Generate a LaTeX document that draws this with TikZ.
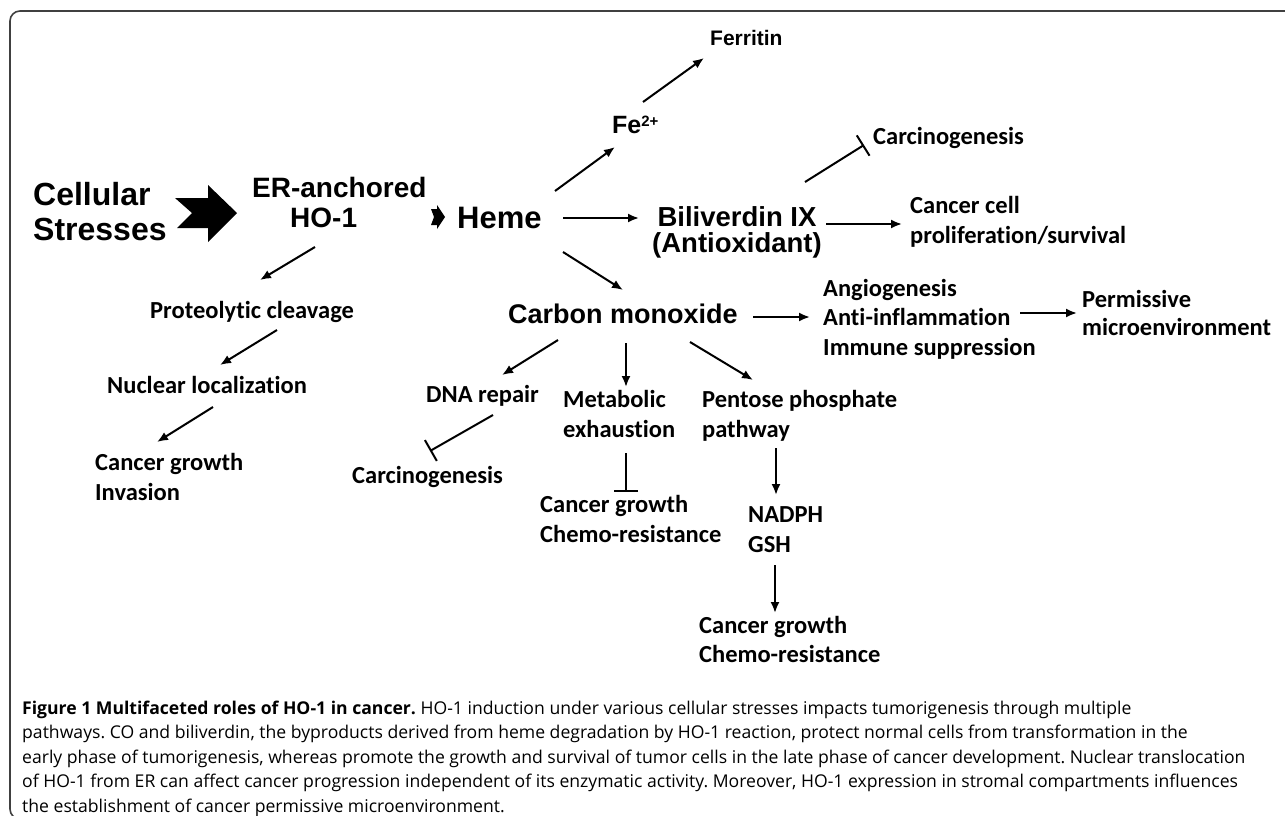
\documentclass[tikz,border=0pt]{standalone}
\usepackage{fontspec}
\setmainfont{Liberation Sans}
\newfontfamily\calfont{Carlito}[Ligatures=NoCommon]
\newfontfamily\capfont{Open Sans}
\usetikzlibrary{arrows.meta}
\begin{document}
\begin{tikzpicture}[x=1pt,y=-1pt,
  ar/.style={inner sep=0pt, anchor=base west, align=flush left, text width=300pt, font=\bfseries\fontsize{#1}{#1}\selectfont},
  cb/.style={inner sep=0pt, anchor=base west, align=flush left, text width=300pt, font=\calfont\bfseries\fontsize{24.5}{30}\selectfont},
  arr/.style={line width=2pt, -{Latex[length=11pt,width=9pt]}},
  inh/.style={line width=2pt, -{Bar[width=24pt]}},
  frame/.style={line width=1.6pt, draw=black!75, rounded corners=10pt}
]
\useasboundingbox (0,0) rectangle (1285,815);
\clip (0,0) rectangle (1285,815);
\draw[frame] (1300,11) -- (10,11) -- (10,819) -- (1300,819);

% Arial-like nodes
\node[ar=32, font=\bfseries\fontsize{32}{35}\selectfont] (stress) at (33,205) {Cellular\\Stresses};
\node[ar=28, font=\bfseries\fontsize{28}{30}\selectfont] (er) at (252,197) {ER-anchored\\\hspace*{38pt}HO-1};
\node[ar=31] (heme) at (457,228) {Heme};
\node[ar=25] (fe) at (612,133) {Fe\raisebox{0.28em}{\fontsize{15}{15}\selectfont 2+}};
\node[ar=21] (ferr) at (710,45) {Ferritin};
\node[inner sep=0pt, anchor=base, align=flush center, text width=220pt, font=\bfseries\fontsize{27.5}{26}\selectfont] (bili) at (737,226) {Biliverdin IX\\(Antioxidant)};
\node[ar=27] (co) at (508,323) {Carbon monoxide};

% Calibri-like nodes
\node[cb] (carc1) at (873,144) {Carcinogenesis};
\node[cb] (cancell) at (910,213) {Cancer cell\\proliferation/survival};
\node[cb, font=\calfont\bfseries\fontsize{24.5}{29.5}\selectfont] (angio) at (823,296) {Angiogenesis\\Anti-inflammation\\Immune suppression};
\node[cb, font=\calfont\bfseries\fontsize{24.5}{28}\selectfont] (perm) at (1082,307) {Permissive\\microenvironment};
\node[cb] (prot) at (150,318) {Proteolytic cleavage};
\node[cb] (nuc) at (107,393) {Nuclear localization};
\node[cb] (cgi) at (95,470) {Cancer growth\\Invasion};
\node[cb] (dna) at (426,402) {DNA repair};
\node[cb] (carc2) at (352,483) {Carcinogenesis};
\node[cb] (meta) at (563,407) {Metabolic\\exhaustion};
\node[cb] (pent) at (702,407) {Pentose phosphate\\pathway};
\node[cb] (cg2) at (540,512) {Cancer growth\\Chemo-resistance};
\node[cb] (nadph) at (748,522) {NADPH\\GSH};
\node[cb, font=\calfont\bfseries\fontsize{24.5}{29}\selectfont] (cg3) at (699,633) {Cancer growth\\Chemo-resistance};

% big block arrows
\fill ([shift={(142,-7)}]stress.base west) -- ++(33,0) -- ++(0,-13) -- ++(29,28) -- ++(-29,29) -- ++(0,-14) -- ++(-31,0) -- ++(15,-15) -- cycle;
\fill ([shift={(-26,-19)}]heme.base west) -- ++(6,0) -- ++(0,-4) -- ++(8,12) -- ++(-8,12) -- ++(0,-4) -- ++(-6,0) -- ++(3,-8) -- cycle;

% connectors
\draw[arr] ([shift={(63,50)}]er.base west) -- ([shift={(110,-38)}]prot.base west);
\draw[arr] ([shift={(127,12)}]prot.base west) -- ([shift={(113,-28)}]nuc.base west);
\draw[arr] ([shift={(106,14)}]nuc.base west) -- ([shift={(62,-28)}]cgi.base west);
\draw[arr] ([shift={(98,-37)}]heme.base west) -- ([shift={(3,14)}]fe.base west);
\draw[arr] ([shift={(31,-31)}]fe.base west) -- ([shift={(-6,13)}]ferr.base west);
\draw[arr] ([shift={(106,-10)}]heme.base west) -- ([shift={(-98,-8)}]bili.base);
\draw[arr] ([shift={(106,24)}]heme.base west) -- ([shift={(115,-33)}]co.base west);
\draw[inh] ([shift={(68,-44)}]bili.base) -- ([shift={(-9,1)}]carc1.base west);
\draw[arr] ([shift={(89,-2)}]bili.base) -- ([shift={(-8,11)}]cancell.base west);
\draw[arr] ([shift={(245,-6)}]co.base west) -- ([shift={(-13,21)}]angio.base west);
\draw[arr] ([shift={(197,17)}]angio.base west) -- ([shift={(-5,6)}]perm.base west);
\draw[arr] ([shift={(50,17)}]co.base west) -- ([shift={(76,-27)}]dna.base west);
\draw[arr] ([shift={(118,20)}]co.base west) -- ([shift={(63,-20)}]meta.base west);
\draw[arr] ([shift={(182,19)}]co.base west) -- ([shift={(51,-27)}]pent.base west);
\draw[inh] ([shift={(67,13)}]dna.base west) -- ([shift={(78,-32)}]carc2.base west);
\draw[inh] ([shift={(63,46)}]meta.base west) -- ([shift={(86,-20)}]cg2.base west);
\draw[arr] ([shift={(74,41)}]pent.base west) -- ([shift={(28,-27)}]nadph.base west);
\draw[arr] ([shift={(27,43)}]nadph.base west) -- ([shift={(76,-20)}]cg3.base west);

% caption
\node[inner sep=0pt, anchor=base west, align=flush left, text width=1300pt, font=\capfont\fontsize{17.6}{24.6}\selectfont\frenchspacing] (cap) at (22,714)
{\textbf{Figure 1 Multifaceted roles of HO-1 in cancer.} HO-1 induction under various cellular stresses impacts tumorigenesis through multiple\\
pathways. CO and biliverdin, the byproducts derived from heme degradation by HO-1 reaction, protect normal cells from transformation in the\\
early phase of tumorigenesis, whereas promote the growth and survival of tumor cells in the late phase of cancer development. Nuclear translocation\\
of HO-1 from ER can affect cancer progression independent of its enzymatic activity. Moreover, HO-1 expression in stromal compartments influences\\
the establishment of cancer permissive microenvironment.};
\end{tikzpicture}
\end{document}
